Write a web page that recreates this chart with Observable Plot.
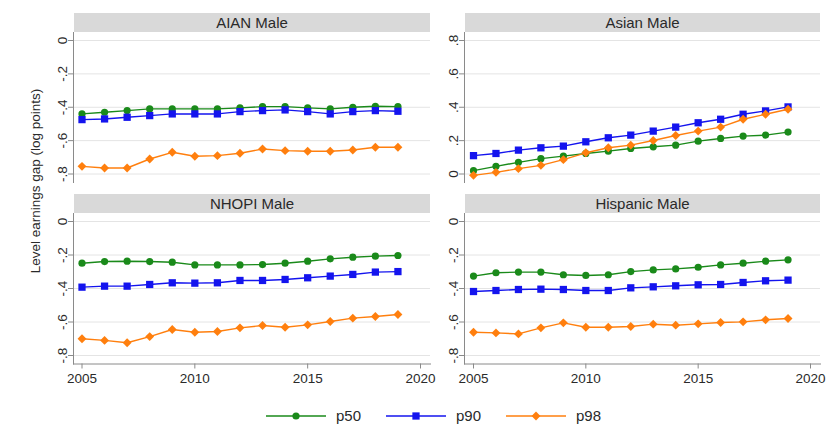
<!DOCTYPE html>
<html>
<head>
<meta charset="utf-8">
<script src="https://cdn.jsdelivr.net/npm/d3@7"></script>
<script src="https://cdn.jsdelivr.net/npm/@observablehq/plot@0.6"></script>
<style>
  body { margin: 0; background: #fff; font-family: "Liberation Sans", Arial, sans-serif; }
  #chart { position: relative; width: 836px; height: 437px; overflow: hidden; background: #fff; }
  .panel { position: absolute; }
  .strip { position: absolute; background: #d9d9d9; color: #2a2a2a; font-size: 15px; text-align: center; height: 19px; line-height: 20px; white-space: nowrap; }
  .ytitle { position: absolute; left: 35px; top: 181px; transform: translate(-50%, -50%) rotate(-90deg); font-size: 13.5px; color: #2a2a2a; white-space: nowrap; }
  .legend { position: absolute; left: 266px; top: 407px; display: flex; align-items: center; }
  .legend .item { display: flex; align-items: center; width: 120px; }
  .legend .lab { margin-left: 10px; font-size: 15px; color: #2a2a2a; }
</style>
</head>
<body>
<div id="chart"></div>
<script>
// ---------------- data ----------------
const years = [2005, 2006, 2007, 2008, 2009, 2010, 2011, 2012, 2013, 2014, 2015, 2016, 2017, 2018, 2019];
const seriesNames = ["p50", "p90", "p98"];
const seriesColors = ["#1a8a1a", "#1414ee", "#ff7f0e"];
const seriesSymbols = ["circle", "square", "diamond2"];

const panelTitles = ["AIAN Male", "Asian Male", "NHOPI Male", "Hispanic Male"];

const aianP50 = [-0.44, -0.43, -0.42, -0.41, -0.41, -0.41, -0.41, -0.404, -0.396, -0.396, -0.404, -0.41, -0.40, -0.394, -0.396];
const aianP90 = [-0.474, -0.47, -0.46, -0.45, -0.44, -0.44, -0.44, -0.426, -0.42, -0.416, -0.426, -0.44, -0.426, -0.42, -0.424];
const aianP98 = [-0.754, -0.764, -0.764, -0.71, -0.67, -0.694, -0.69, -0.676, -0.65, -0.66, -0.664, -0.664, -0.656, -0.64, -0.64];

const asianP50 = [0.02, 0.046, 0.07, 0.092, 0.107, 0.123, 0.137, 0.153, 0.163, 0.173, 0.197, 0.213, 0.227, 0.233, 0.251];
const asianP90 = [0.11, 0.123, 0.143, 0.157, 0.167, 0.193, 0.217, 0.233, 0.257, 0.281, 0.307, 0.328, 0.358, 0.378, 0.402];
const asianP98 = [-0.008, 0.01, 0.032, 0.052, 0.086, 0.127, 0.157, 0.173, 0.201, 0.231, 0.257, 0.281, 0.328, 0.358, 0.388];

const nhopiP50 = [-0.249, -0.239, -0.237, -0.239, -0.243, -0.259, -0.259, -0.259, -0.257, -0.249, -0.237, -0.223, -0.213, -0.207, -0.203];
const nhopiP90 = [-0.392, -0.386, -0.386, -0.376, -0.366, -0.368, -0.366, -0.352, -0.352, -0.346, -0.336, -0.326, -0.316, -0.302, -0.299];
const nhopiP98 = [-0.70, -0.71, -0.724, -0.687, -0.645, -0.661, -0.657, -0.635, -0.621, -0.631, -0.617, -0.597, -0.577, -0.567, -0.555];

const hispP50 = [-0.326, -0.306, -0.302, -0.302, -0.318, -0.322, -0.318, -0.299, -0.289, -0.283, -0.273, -0.259, -0.249, -0.237, -0.229];
const hispP90 = [-0.418, -0.412, -0.406, -0.404, -0.406, -0.412, -0.412, -0.396, -0.39, -0.384, -0.378, -0.376, -0.364, -0.354, -0.35];
const hispP98 = [-0.661, -0.665, -0.671, -0.635, -0.605, -0.631, -0.631, -0.627, -0.613, -0.619, -0.611, -0.603, -0.599, -0.587, -0.579];

const xTicks = [2005, 2010, 2015, 2020];
const yTicksNeg = [0, -0.2, -0.4, -0.6, -0.8];
const yTicksPos = [0, 0.2, 0.4, 0.6, 0.8];
const yTickLabels = {"0": "0", "-0.2": "-.2", "-0.4": "-.4", "-0.6": "-.6", "-0.8": "-.8", "0.2": ".2", "0.4": ".4", "0.6": ".6", "0.8": ".8"};
const yAxisTitle = "Level earnings gap (log points)";

// ---------------- layout ----------------
const FONT = '"Liberation Sans", Arial, sans-serif';
const markerR = {p50: 3.6, p90: 4.1, p98: 4.0};
const fmt = d => yTickLabels[String(+d.toFixed(1))];

function rows(arrs) {
  const out = [];
  seriesNames.forEach((s, k) => years.forEach((y, i) => out.push({year: y, value: arrs[k][i], series: s})));
  return out;
}

const panels = [
  {title: panelTitles[0], data: rows([aianP50, aianP90, aianP98]), yDomain: [-0.8, 0], yTicks: yTicksNeg, col: 0, row: 0},
  {title: panelTitles[1], data: rows([asianP50, asianP90, asianP98]), yDomain: [0, 0.8], yTicks: yTicksPos, col: 1, row: 0},
  {title: panelTitles[2], data: rows([nhopiP50, nhopiP90, nhopiP98]), yDomain: [-0.8, 0], yTicks: yTicksNeg, col: 0, row: 1},
  {title: panelTitles[3], data: rows([hispP50, hispP90, hispP98]), yDomain: [-0.8, 0], yTicks: yTicksNeg, col: 1, row: 1}
];

const colGeom = [
  {left: 0, width: 436, marginLeft: 73, marginRight: 6, insetLeft: 8.5, insetRight: 10},
  {left: 436, width: 400, marginLeft: 28, marginRight: 16, insetLeft: 9, insetRight: 10}
];
const rowGeom = [
  {top: 0, height: 190, marginTop: 32, marginBottom: 8, stripTop: 13},
  {top: 190, height: 210, marginTop: 23, marginBottom: 36.5, stripTop: 194}
];

const chart = document.getElementById("chart");

panels.forEach(p => {
  const cg = colGeom[p.col], rg = rowGeom[p.row];
  const bottom = p.row === 1;
  const marks = [
    Plot.gridY(p.yTicks, {stroke: "#e4e4e4", strokeOpacity: 1, strokeWidth: 1}),
    Plot.axisY(p.yTicks, {tickRotate: -90, tickFormat: fmt, tickSize: 5, tickPadding: 2, stroke: "#8a8a8a", fill: "#2a2a2a", label: null, fontSize: 13.5}),
    Plot.frame({anchor: "left", stroke: "#8a8a8a"})
  ];
  if (bottom) {
    marks.push(
      Plot.axisX(xTicks, {tickFormat: d => String(d), tickSize: 5, stroke: "#8a8a8a", fill: "#2a2a2a", label: null, fontSize: 13.5}),
      Plot.frame({anchor: "bottom", stroke: "#8a8a8a"})
    );
  }
  seriesNames.forEach(s => {
    const d = p.data.filter(r => r.series === s);
    marks.push(
      Plot.line(d, {x: "year", y: "value", stroke: "series", strokeWidth: 1.4}),
      Plot.dot(d, {x: "year", y: "value", fill: "series", symbol: "series", r: markerR[s], stroke: "none"})
    );
  });
  const svg = Plot.plot({
    width: cg.width, height: rg.height,
    marginLeft: cg.marginLeft, marginRight: cg.marginRight,
    marginTop: rg.marginTop, marginBottom: rg.marginBottom,
    style: {background: "transparent", fontFamily: FONT, fontSize: "13.5px", color: "#2a2a2a", overflow: "visible"},
    x: {domain: [2005, 2020], insetLeft: cg.insetLeft, insetRight: cg.insetRight, axis: bottom ? undefined : null},
    y: {domain: p.yDomain, insetTop: 8, insetBottom: 8.5},
    color: {domain: seriesNames, range: seriesColors},
    symbol: {domain: seriesNames, range: seriesSymbols},
    marks
  });
  const wrap = document.createElement("div");
  wrap.className = "panel";
  wrap.style.left = cg.left + "px";
  wrap.style.top = rg.top + "px";
  wrap.appendChild(svg);
  chart.appendChild(wrap);

  const strip = document.createElement("div");
  strip.className = "strip";
  strip.style.left = (cg.left + cg.marginLeft + 1) + "px";
  strip.style.width = (cg.width - cg.marginLeft - cg.marginRight - 1) + "px";
  strip.style.top = rg.stripTop + "px";
  strip.textContent = p.title;
  chart.appendChild(strip);
});

const yt = document.createElement("div");
yt.className = "ytitle";
yt.textContent = yAxisTitle;
chart.appendChild(yt);

// legend
const legend = document.createElement("div");
legend.className = "legend";
const symMap = {circle: d3.symbolCircle, square: d3.symbolSquare, diamond2: d3.symbolDiamond2};
seriesNames.forEach((s, k) => {
  const item = document.createElement("div");
  item.className = "item";
  const sw = d3.create("svg").attr("width", 60).attr("height", 14);
  sw.append("line").attr("x1", 0).attr("x2", 60).attr("y1", 7).attr("y2", 7)
    .attr("stroke", seriesColors[k]).attr("stroke-width", 1.4);
  sw.append("path").attr("transform", "translate(30,7)")
    .attr("d", d3.symbol(symMap[seriesSymbols[k]], markerR[s] * markerR[s] * Math.PI)())
    .attr("fill", seriesColors[k]);
  item.appendChild(sw.node());
  const lab = document.createElement("span");
  lab.className = "lab";
  lab.textContent = s;
  item.appendChild(lab);
  legend.appendChild(item);
});
chart.appendChild(legend);
</script>
</body>
</html>
